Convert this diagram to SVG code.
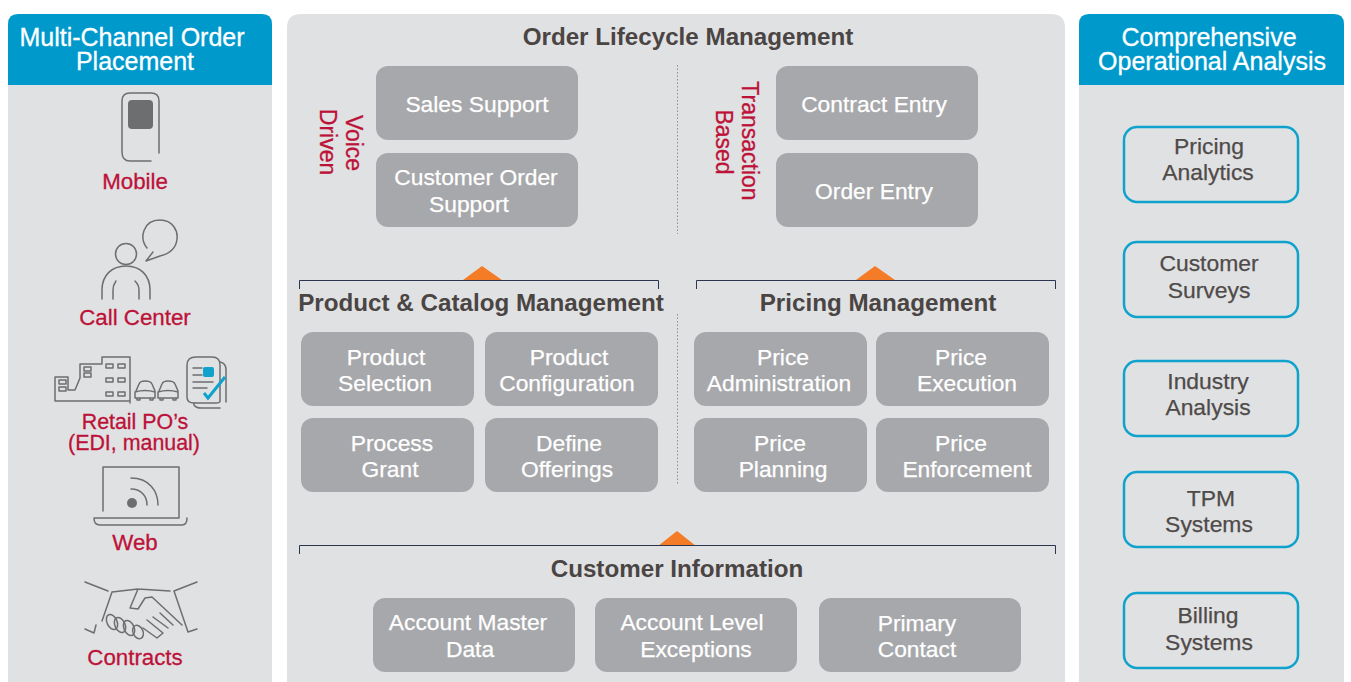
<svg xmlns="http://www.w3.org/2000/svg" width="1351" height="682" viewBox="0 0 1351 682">
<style>
text{font-family:"Liberation Sans",Arial,sans-serif;text-anchor:middle}
.panel{fill:#e0e1e3}
.head{fill:#0099cc}
.ht{fill:#fff;stroke:#fff;stroke-width:.3;font-size:25px}
.g{fill:#a7a8ab}
.gt{fill:#fff;stroke:#fff;stroke-width:.25;font-size:22.8px}
.title{fill:#4a4543;font-size:24.2px;font-weight:bold}
.red{fill:#bd1238;stroke:#bd1238;stroke-width:.3;font-size:22.3px}
.red2{font-size:21.4px}
.redv{font-size:23px}
.box{fill:#e0e1e3;stroke:#0ea2cd;stroke-width:2.5}
.bt{fill:#4f4b49;stroke:#4f4b49;stroke-width:.25;font-size:22.9px}
.ic{fill:none;stroke:#6d6e70;stroke-width:1.5;stroke-linecap:round;stroke-linejoin:round}
.br{fill:none;stroke:#2b3550;stroke-width:1}
.tri{fill:#f47c26}
.dot{stroke:#77787b;stroke-width:.8;stroke-dasharray:1.5 2;fill:none}
</style>
<rect width="1351" height="682" fill="#fff"/>
<g id="left-panel">
<path class="panel" d="M8 85H272V682H8Z"/>
<path class="head" d="M8 85V24Q8 14 18 14H262Q272 14 272 24V85Z"/>
<text class="ht" x="132" y="46">Multi-Channel Order</text>
<text class="ht" x="135" y="70">Placement</text>
</g>
<g id="mobile">
<path class="ic" d="M159 153V101Q159 93 151 93H130Q122 93 122 101V152Q122 161 130 161H151"/>
<rect x="128" y="100" width="25" height="29" rx="4" fill="#6d6e70"/>
<text class="red" x="135" y="189">Mobile</text>
</g>
<g id="call-center">
<circle cx="126" cy="254" r="10.5" class="ic"/>
<path class="ic" d="M102 299V290C102 275 112 266 126 266C140 266 150 275 150 290V299M113 299V290Q113 285 116 281M139 299V290Q139 285 135 281"/>
<path class="ic" d="M147 248C139 238 143 220 160 220C173 220 178 231 177 239C176 250 168 254 160 256L146 261L153 252"/>
<text class="red" x="135" y="325">Call Center</text>
</g>
<g id="retail">
<path class="ic" d="M130 403V357H102V364H80V378L75 390H68V377H55V401H130"/>
<path class="ic" d="M59 380H66V384H59ZM59 387H66V391H59ZM84 367H91V371H84ZM84 373H91V377H84ZM106 364H113V368H106ZM118 364H125V368H118ZM106 378H113V382H106ZM118 378H125V382H118ZM106 392H113V396H106ZM118 392H125V396H118Z"/>
<path class="ic" d="M136 391L139 384Q140 381 145 381Q151 381 152 384L155 391M135 392Q145 389 155 392V398M135 392V398H155M137 398V400H140V398M150 398V400H153V398M159 391L162 384Q163 381 168 381Q174 381 175 384L178 391M158 392Q168 389 178 392V398M158 392V398H178M160 398V400H163V398M173 398V400H176V398"/>
<path class="ic" d="M196 357H212Q220 357 220 365V401Q220 403 216 403H194Q187 403 187 397V365Q187 357 196 357Z"/>
<path class="ic" d="M220 362Q226 363 226 370V402M194 403V405Q196 408 201 408H220"/>
<path class="ic" d="M193 368H202M193 375H202M193 382H213M193 388H207"/>
<rect x="203" y="367" width="11" height="10" rx="2" fill="#0ea2cd"/>
<path d="M204 393L208 398L225 377" fill="none" stroke="#0ea2cd" stroke-width="3"/>
<text class="red red2" x="135" y="429">Retail PO’s</text>
<text class="red red2" x="134" y="450">(EDI, manual)</text>
</g>
<g id="web">
<path class="ic" d="M103 511V467H179V518H94Q94 525 100 525H182Q187 525 187 518"/>
<circle cx="132" cy="503" r="5" fill="#6d6e70"/>
<path class="ic" d="M131 489C142 489 147 497 147 505M131 478C149 478 158 491 158 505"/>
<text class="red" x="135" y="550">Web</text>
</g>
<g id="contracts">
<path class="ic" d="M85 582L108 591M197 582L174 591M112 592L102 621M174 591L188 632L197 629M85 629L94 633L96 625M112 592L138 589L170 591M138 589L130 608L138 609L145 598L152 597L182 625M147 620L163 633M153 617L168 628M160 613L173 625M143 628L157 638L163 633"/>
<ellipse class="ic" cx="112" cy="622" rx="5" ry="8" transform="rotate(-25 112 622)"/>
<ellipse class="ic" cx="120" cy="625" rx="5" ry="8" transform="rotate(-25 120 625)"/>
<ellipse class="ic" cx="129" cy="628" rx="5" ry="8" transform="rotate(-25 129 628)"/>
<ellipse class="ic" cx="138" cy="632" rx="5" ry="7" transform="rotate(-25 138 632)"/>
<text class="red" x="135" y="665">Contracts</text>
</g>
<g id="center-panel">
<path class="panel" d="M287 682V28Q287 14 301 14H1051Q1065 14 1065 28V682Z"/>
<text class="title" x="688" y="45">Order Lifecycle Management</text>
<text class="title" x="481" y="311">Product &amp; Catalog Management</text>
<text class="title" x="878" y="311">Pricing Management</text>
<text class="title" x="677" y="577">Customer Information</text>
</g>
<g id="voice-label"><text class="red redv" transform="translate(346 143) rotate(90)">Voice</text><text class="red redv" transform="translate(320 142) rotate(90)">Driven</text></g>
<g id="transaction-label"><text class="red redv" transform="translate(742 141) rotate(90)">Transaction</text><text class="red redv" transform="translate(716 142) rotate(90)">Based</text></g>
<g id="sales-support"><rect class="g" x="376" y="66" width="202" height="74" rx="12"/><text class="gt" x="477" y="112">Sales Support</text></g>
<g id="customer-order-support"><rect class="g" x="376" y="153" width="202" height="74" rx="12"/><text class="gt" x="476" y="185">Customer Order</text><text class="gt" x="469" y="212">Support</text></g>
<g id="contract-entry"><rect class="g" x="776" y="66" width="202" height="74" rx="12"/><text class="gt" x="874" y="112">Contract Entry</text></g>
<g id="order-entry"><rect class="g" x="776" y="153" width="202" height="74" rx="12"/><text class="gt" x="874" y="199">Order Entry</text></g>
<g id="product-selection"><rect class="g" x="301" y="332" width="173" height="74" rx="12"/><text class="gt" x="386" y="365">Product</text><text class="gt" x="385" y="391">Selection</text></g>
<g id="product-configuration"><rect class="g" x="485" y="332" width="173" height="74" rx="12"/><text class="gt" x="569" y="365">Product</text><text class="gt" x="567" y="391">Configuration</text></g>
<g id="process-grant"><rect class="g" x="301" y="418" width="173" height="74" rx="12"/><text class="gt" x="392" y="451">Process</text><text class="gt" x="390" y="477">Grant</text></g>
<g id="define-offerings"><rect class="g" x="485" y="418" width="173" height="74" rx="12"/><text class="gt" x="569" y="451">Define</text><text class="gt" x="567" y="477">Offerings</text></g>
<g id="price-administration"><rect class="g" x="694" y="332" width="173" height="74" rx="12"/><text class="gt" x="783" y="365">Price</text><text class="gt" x="779" y="391">Administration</text></g>
<g id="price-execution"><rect class="g" x="876" y="332" width="173" height="74" rx="12"/><text class="gt" x="961" y="365">Price</text><text class="gt" x="967" y="391">Execution</text></g>
<g id="price-planning"><rect class="g" x="694" y="418" width="173" height="74" rx="12"/><text class="gt" x="780" y="451">Price</text><text class="gt" x="783" y="477">Planning</text></g>
<g id="price-enforcement"><rect class="g" x="876" y="418" width="173" height="74" rx="12"/><text class="gt" x="961" y="451">Price</text><text class="gt" x="967" y="477">Enforcement</text></g>
<g id="account-master"><rect class="g" x="373" y="598" width="202" height="74" rx="12"/><text class="gt" x="468" y="630">Account Master</text><text class="gt" x="470" y="657">Data</text></g>
<g id="account-level"><rect class="g" x="595" y="598" width="202" height="74" rx="12"/><text class="gt" x="692" y="630">Account Level</text><text class="gt" x="696" y="657">Exceptions</text></g>
<g id="primary-contact"><rect class="g" x="819" y="598" width="202" height="74" rx="12"/><text class="gt" x="917" y="631">Primary</text><text class="gt" x="917" y="657">Contact</text></g>
<g id="connectors">
<path class="dot" d="M677.5 65V234M677.5 314V484"/>
<path class="tri" d="M463 280L482 266L502 280Z"/>
<path class="tri" d="M856 280L875 266L895 280Z"/>
<path class="tri" d="M658 546L677 531L696 546Z"/>
<path class="br" d="M299.5 289V280.500H658.500V289"/>
<path class="br" d="M696.500 289V280.500H1055.500V289"/>
<path class="br" d="M299.500 554V545.500H1055.500V554"/>
</g>
<g id="right-panel">
<path class="panel" d="M1079 85H1344V682H1079Z"/>
<path class="head" d="M1079 85V24Q1079 14 1089 14H1334Q1344 14 1344 24V85Z"/>
<text class="ht" x="1209" y="46">Comprehensive</text>
<text class="ht" x="1212" y="70">Operational Analysis</text>
</g>
<g id="pricing-analytics"><rect class="box" x="1124" y="127" width="174" height="75" rx="13"/><text class="bt" x="1209" y="154">Pricing</text><text class="bt" x="1208" y="180">Analytics</text></g>
<g id="customer-surveys"><rect class="box" x="1124" y="242" width="174" height="75" rx="13"/><text class="bt" x="1209" y="271">Customer</text><text class="bt" x="1209" y="298">Surveys</text></g>
<g id="industry-analysis"><rect class="box" x="1124" y="361" width="174" height="75" rx="13"/><text class="bt" x="1208" y="389">Industry</text><text class="bt" x="1208" y="415">Analysis</text></g>
<g id="tpm-systems"><rect class="box" x="1124" y="472" width="174" height="75" rx="13"/><text class="bt" x="1211" y="506">TPM</text><text class="bt" x="1209" y="532">Systems</text></g>
<g id="billing-systems"><rect class="box" x="1124" y="593" width="174" height="75" rx="13"/><text class="bt" x="1208" y="623">Billing</text><text class="bt" x="1209" y="650">Systems</text></g>
</svg>
